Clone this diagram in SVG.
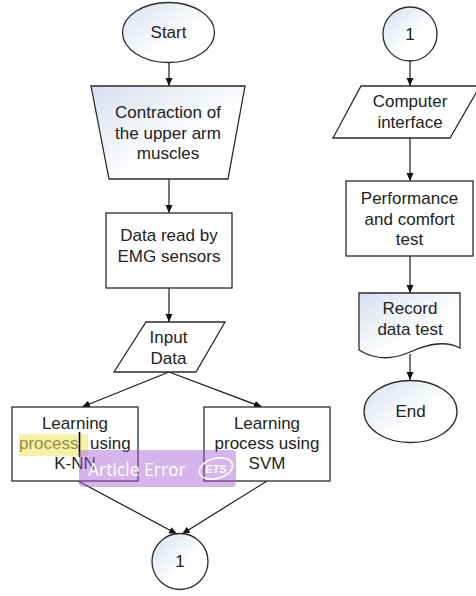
<svg xmlns="http://www.w3.org/2000/svg" width="476" height="596" viewBox="0 0 476 596">
<defs>
<linearGradient id="g" x1="0" y1="0" x2="1" y2="1">
<stop offset="0" stop-color="#d6dff0"/>
<stop offset="0.6" stop-color="#ffffff"/>
</linearGradient>
<marker id="ah" markerUnits="userSpaceOnUse" markerWidth="9" markerHeight="8" refX="8" refY="3.5" orient="auto">
<path d="M0,0 L8,3.5 L0,7 z" fill="#111"/>
</marker>
</defs>
<style>
.s{stroke:#2b2b2b;stroke-width:1.3;}
.gf{fill:url(#g);}
.wf{fill:#ffffff;}
.t{font-family:"Liberation Sans",Arial,sans-serif;font-size:17px;fill:#222;text-anchor:middle;}
.c{fill:none;stroke:#1a1a1a;stroke-width:1.2;marker-end:url(#ah);}
</style>
<rect width="476" height="596" fill="#fff"/>
<g id="connectors">
<line class="c" x1="169" y1="63" x2="169" y2="86"/>
<line class="c" x1="169" y1="179" x2="169" y2="213"/>
<line class="c" x1="169" y1="288" x2="169" y2="322"/>
<line class="c" x1="169" y1="372" x2="82" y2="407"/>
<line class="c" x1="169" y1="372" x2="262" y2="407"/>
<line class="c" x1="78" y1="481" x2="177" y2="534"/>
<line class="c" x1="267" y1="481" x2="182" y2="534"/>
<line class="c" x1="410" y1="61" x2="410" y2="86"/>
<line class="c" x1="410" y1="138" x2="410" y2="181"/>
<line class="c" x1="410" y1="256" x2="410" y2="293"/>
<line class="c" x1="410" y1="354" x2="410" y2="380"/>
</g>
<g id="start">
<ellipse class="s gf" cx="168.5" cy="32.5" rx="46" ry="30"/>
<text class="t" x="168.5" y="38">Start</text>
</g>
<g id="contraction">
<polygon class="s gf" points="91,86 245,86 228,179 109,179"/>
<text class="t" x="168" y="118">Contraction of</text>
<text class="t" x="168" y="139">the upper arm</text>
<text class="t" x="168" y="159">muscles</text>
</g>
<g id="dataread">
<rect class="s wf" x="106" y="213" width="126" height="75"/>
<text class="t" x="169" y="241">Data read by</text>
<text class="t" x="169" y="262">EMG sensors</text>
</g>
<g id="input">
<polygon class="s wf" points="146,322 225,322 196,372 114,372"/>
<text class="t" x="168.5" y="343">Input</text>
<text class="t" x="168.5" y="364">Data</text>
</g>
<g id="knn">
<rect class="s wf" x="12" y="407" width="126" height="74"/>
<text class="t" x="75" y="429">Learning</text>
<text class="t" y="449" style="text-anchor:start"><tspan x="19">process</tspan><tspan x="90">using</tspan></text>
<text class="t" x="75" y="469">K-NN</text>
</g>
<g id="svm">
<rect class="s wf" x="204" y="407" width="126" height="74"/>
<text class="t" x="267" y="429">Learning</text>
<text class="t" x="267" y="449">process using</text>
<text class="t" x="267" y="469">SVM</text>
</g>
<g id="conn1a">
<circle class="s gf" cx="180" cy="561.5" r="28"/>
<text class="t" x="180" y="567">1</text>
</g>
<g id="conn1b">
<circle class="s gf" cx="410" cy="34" r="27"/>
<text class="t" x="410" y="40">1</text>
</g>
<g id="computer">
<polygon class="s wf" points="361,86 480,86 450,138 333,138"/>
<text class="t" x="410" y="107">Computer</text>
<text class="t" x="410" y="128">interface</text>
</g>
<g id="performance">
<rect class="s wf" x="346" y="181" width="127" height="75"/>
<text class="t" x="409.5" y="204">Performance</text>
<text class="t" x="409.5" y="225">and comfort</text>
<text class="t" x="409.5" y="245">test</text>
</g>
<g id="record">
<path class="s gf" d="M359,293 L460,293 L460,348 C445,340 428,344 410,352 C392,360 375,360 359,350 Z"/>
<text class="t" x="410" y="314">Record</text>
<text class="t" x="410" y="335">data test</text>
</g>
<g id="end">
<ellipse class="s gf" cx="410.5" cy="411.5" rx="46.5" ry="31"/>
<text class="t" x="410.5" y="417">End</text>
</g>
<g id="overlay">
<rect x="19" y="434" width="69" height="22" fill="#f0e660" opacity="0.55"/>
<line x1="79.5" y1="432" x2="79.5" y2="457" stroke="#000" stroke-width="1.6"/>
<rect x="79" y="450" width="157" height="37" rx="4" fill="#a35ad6" opacity="0.45"/>
<text x="88" y="476" font-family="'Open Sans','Liberation Sans',sans-serif" font-size="17.5" fill="#ffffff">Article Error</text>
<ellipse cx="216" cy="468.5" rx="17" ry="10" fill="none" stroke="#ffffff" stroke-width="1.6" transform="rotate(-15 216 468.5)"/>
<text x="216" y="473" font-family="'Liberation Sans',sans-serif" font-size="11" font-weight="bold" font-style="italic" fill="#ffffff" text-anchor="middle">ETS</text>
</g>
</svg>
